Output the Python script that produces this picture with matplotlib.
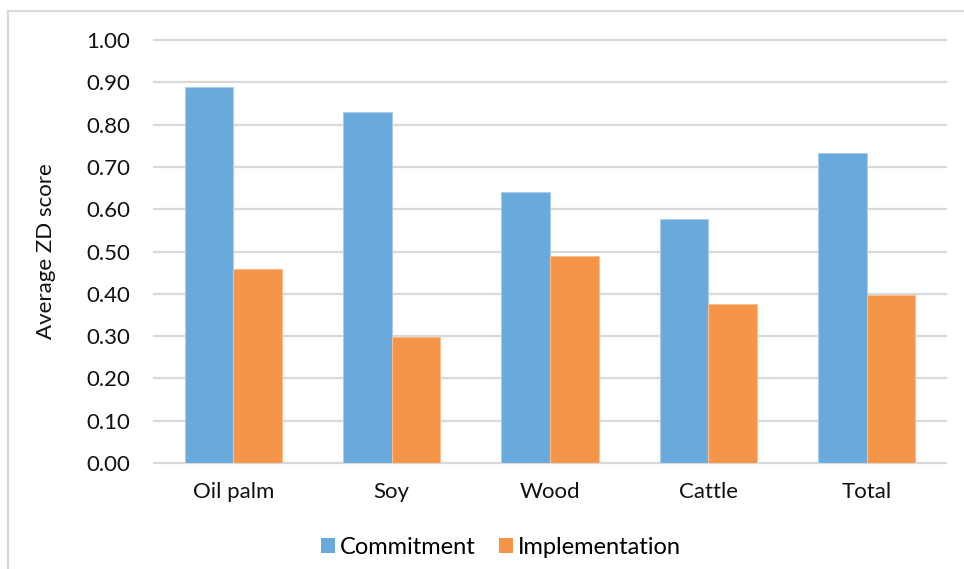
import matplotlib
matplotlib.use("Agg")
import matplotlib.pyplot as plt
import numpy as np
from matplotlib.lines import Line2D
from matplotlib.patches import Patch

categories = ["Oil palm", "Soy", "Wood", "Cattle", "Total"]
commitment = [0.888, 0.829, 0.641, 0.578, 0.734]
implementation = [0.458, 0.298, 0.489, 0.376, 0.398]
y_ticks = [0.0, 0.1, 0.2, 0.3, 0.4, 0.5, 0.6, 0.7, 0.8, 0.9, 1.0]

blue = "#69aadc"
orange = "#f69447"
grid_col = "#d9d9d9"
text_col = "#111111"
fs = 16

plt.rcParams["font.family"] = ["Lato", "DejaVu Sans"]

W, H = 964, 569
fig = plt.figure(figsize=(W / 100, H / 100), dpi=100)
ax = fig.add_axes([154 / W, 1 - 463 / H, (946 - 154) / W, (463 - 40) / H])

x = np.arange(len(categories))
bw = 0.307
ax.bar(x - bw / 2, commitment, bw, color=blue, edgecolor="#a9cdea", linewidth=0.8,
       zorder=3, label="Commitment")
ax.bar(x + bw / 2, implementation, bw, color=orange, edgecolor="#f9bf93", linewidth=0.8,
       zorder=3, label="Implementation")

ax.set_xlim(-0.5, len(categories) - 0.5)
ax.set_ylim(0, 1.0)
ax.set_yticks(y_ticks)
ax.set_yticklabels([f"{v:.2f}" for v in y_ticks])
ax.set_xticks(x)
ax.set_xticklabels(categories)
ax.tick_params(axis="y", length=0, pad=17, labelsize=fs, labelcolor=text_col)
ax.tick_params(axis="x", length=0, pad=14, labelsize=fs, labelcolor=text_col)
for s in ax.spines.values():
    s.set_visible(False)
for v in y_ticks:
    ax.axhline(v, color=grid_col, linewidth=1.6, zorder=1, clip_on=False)

ax.set_ylabel("Average ZD score", fontsize=fs, color=text_col, labelpad=22)

handles = [Patch(facecolor=blue, edgecolor="none"), Patch(facecolor=orange, edgecolor="none")]
fig.legend(handles, ["Commitment", "Implementation"], loc="center",
           bbox_to_anchor=(501 / W, 1 - 547 / H), ncol=2, frameon=False,
           fontsize=17, handlelength=0.6, handleheight=0.6, handletextpad=0.2,
           columnspacing=1.0)

# chart-area border along the top and left edges
fig.add_artist(Line2D([7.5 / W, 1.0], [1 - 10.5 / H, 1 - 10.5 / H],
                      transform=fig.transFigure, color=grid_col, linewidth=1.5))
fig.add_artist(Line2D([7.5 / W, 7.5 / W], [0.0, 1 - 10.5 / H],
                      transform=fig.transFigure, color=grid_col, linewidth=1.5))

fig.savefig("out.png", dpi=100, facecolor="white")
